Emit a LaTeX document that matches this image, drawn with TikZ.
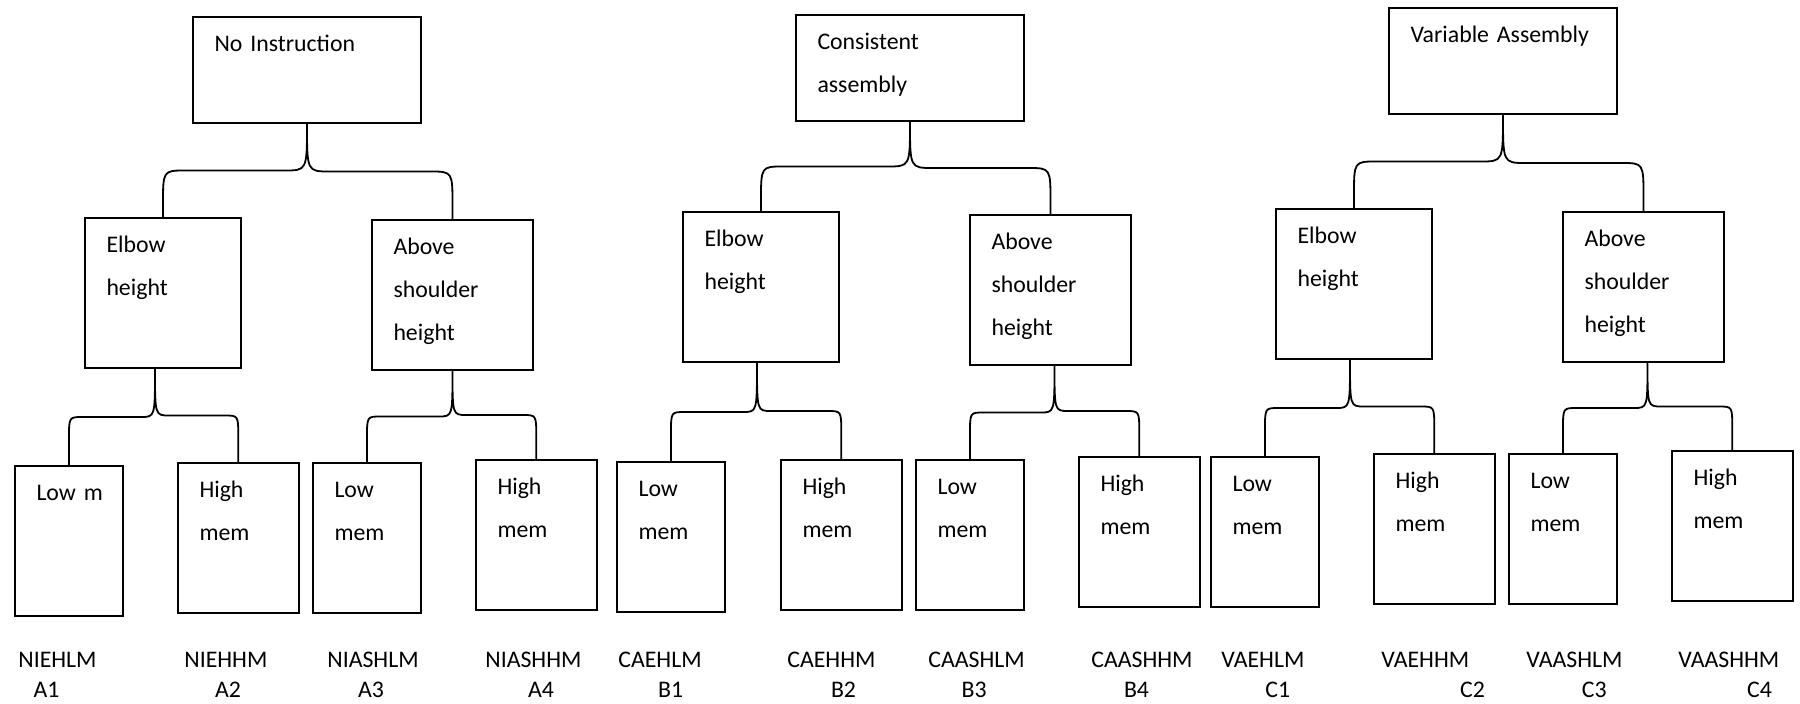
\documentclass[tikz,border=0pt]{standalone}
\usepackage{fontspec}
\setmainfont{Carlito}
\usetikzlibrary{calc}
\newcommand{\boxfont}{\fontsize{11.9}{21.5}\selectfont}
\newcommand{\codefont}{\fontsize{11.9}{15}\selectfont}
\tikzset{
  box/.style   ={draw,line width=1pt,anchor=north west,align=left,inner xsep=10.75pt,inner ysep=0pt,
                 text height=17.5pt,font=\boxfont},
  cond/.style  ={box,text width=92.5pt,text depth=35.5pt},
  sub/.style   ={box,text width=#1,text depth=57.5pt},
  code/.style  ={anchor=base west,align=left,text width=70pt,inner sep=0pt,font=\codefont},
  link/.style  ={line width=0.9pt},
  branch/.style={to path={let \p1=(\tikztostart),\p2=(\tikztotarget),\p3=($(\p1)!.5!(\p2)$),
      \n1={ifthenelse(\x2>\x1,1,-1)} in
      (\p1) .. controls (\x1,\y3) .. ({\x1+\n1*#1},\y3) -- ({\x2-\n1*#1},\y3)
      .. controls (\x2,\y3) .. (\x2,{\y3-1.5*#1}) -- (\p2)}}
}
\begin{document}
\begin{tikzpicture}[x=0.5pt,y=-0.5pt]
  \useasboundingbox (0,0) rectangle (1800,704);
  % conditions
  \node[cond] (ni) at (192,16)  {No~Instruction};
  \node[cond] (ca) at (795,14)  {Consistent\\assembly};
  \node[cond] (va) at (1388,7)  {Variable~Assembly};
  % working heights
  \node[sub=56.5pt] (nie) at (84,217)   {Elbow\\height};
  \node[sub=59pt]   (nia) at (371,219)  {Above\\shoulder\\height};
  \node[sub=56.5pt] (cae) at (682,211)  {Elbow\\height};
  \node[sub=59pt]   (caa) at (969,214)  {Above\\shoulder\\height};
  \node[sub=56.5pt] (vae) at (1275,208) {Elbow\\height};
  \node[sub=59pt]   (vaa) at (1562,211) {Above\\shoulder\\height};
  % memory load
  \node[sub=32.5pt]  (a1) at (14,465)   {Low~m};
  \node[sub=38.75pt] (a2) at (177,462)  {High\\mem};
  \node[sub=32.5pt]  (a3) at (312,462)  {Low\\mem};
  \node[sub=38.75pt] (a4) at (475,459)  {High\\mem};
  \node[sub=32.5pt]  (b1) at (616,461)  {Low\\mem};
  \node[sub=38.75pt] (b2) at (780,459)  {High\\mem};
  \node[sub=32.5pt]  (b3) at (915,459)  {Low\\mem};
  \node[sub=38.75pt] (b4) at (1078,456) {High\\mem};
  \node[sub=32.5pt]  (c1) at (1210,456) {Low\\mem};
  \node[sub=38.75pt] (c2) at (1373,453) {High\\mem};
  \node[sub=32.5pt]  (c3) at (1508,453) {Low\\mem};
  \node[sub=38.75pt] (c4) at (1671,450) {High\\mem};
  % group codes
  \foreach \x/\code/\gap/\id in {18/NIEHLM/7.6/A1,184/NIEHHM/15.3/A2,327/NIASHLM/15.3/A3,485/NIASHHM/21.4/A4,
      618/CAEHLM/19.9/B1,787/CAEHHM/21.8/B2,928/CAASHLM/16.6/B3,1091/CAASHHM/16.3/B4,
      1221/VAEHLM/22/C1,1381/VAEHHM/39.4/C2,1526/VAASHLM/27.7/C3,1678/VAASHHM/34.4/C4}
    \node[code] (l\id) at (\x,668) {\code\\\hspace*{\gap pt}\id};
  % braces
  \draw[link] (ni.south) to[branch=11.3pt] (nie.north) (ni.south) to[branch=11.3pt] (nia.north);
  \draw[link] (ca.south) to[branch=11.3pt] (cae.north) (ca.south) to[branch=11.3pt] (caa.north);
  \draw[link] (va.south) to[branch=11.3pt] (vae.north) (va.south) to[branch=11.3pt] (vaa.north);
  \draw[link] ([xshift=-4pt]nie.south) to[branch=7pt] (a1.north) ([xshift=-4pt]nie.south) to[branch=7pt] (a2.north);
  \draw[link] (nia.south) to[branch=7pt] (a3.north) (nia.south) to[branch=7pt] (a4.north);
  \draw[link] ([xshift=-2pt]cae.south) to[branch=7pt] (b1.north) ([xshift=-2pt]cae.south) to[branch=7pt] (b2.north);
  \draw[link] ([xshift=2pt]caa.south) to[branch=7pt] (b3.north) ([xshift=2pt]caa.south) to[branch=7pt] (b4.north);
  \draw[link] ([xshift=-2pt]vae.south) to[branch=7pt] (c1.north) ([xshift=-2pt]vae.south) to[branch=7pt] (c2.north);
  \draw[link] ([xshift=2pt]vaa.south) to[branch=7pt] (c3.north) ([xshift=2pt]vaa.south) to[branch=7pt] (c4.north);
\end{tikzpicture}
\end{document}
